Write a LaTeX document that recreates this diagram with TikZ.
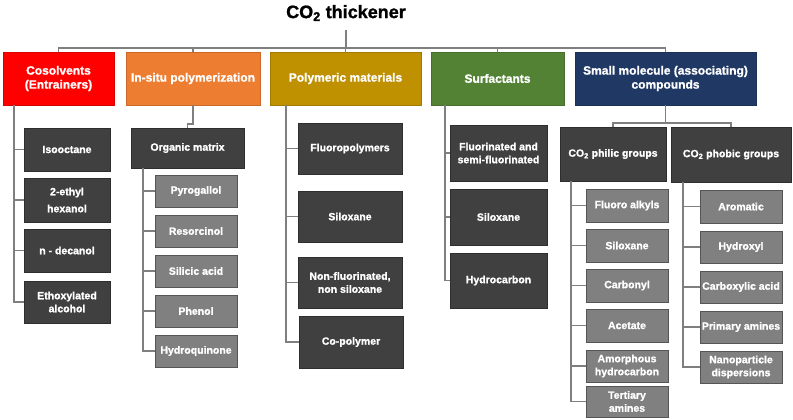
\documentclass[tikz,border=0pt]{standalone}
\usepackage{fontspec}
\setmainfont{Liberation Sans}[BoldFeatures={FakeBold=1.2}]
\definecolor{lnc}{HTML}{7F7F7F}
\definecolor{dkf}{HTML}{404040}
\definecolor{dkd}{HTML}{2E2E2E}
\definecolor{gyf}{HTML}{808080}
\definecolor{gyd}{HTML}{555555}
\definecolor{cred}{HTML}{FF0000}
\definecolor{corg}{HTML}{ED7D31}
\definecolor{cgld}{HTML}{BF9000}
\definecolor{cgrn}{HTML}{548235}
\definecolor{cnvy}{HTML}{1F3864}
\newcommand\bx[7]{\node[#2,minimum width={#5-#3},minimum height={#6-#4}] (#1) at ({(#3+#5)/2},{(#4+#6)/2}) {#7};}
\begin{document}
\begin{tikzpicture}[x=1pt,y=-1pt,
  base/.style={rectangle,inner sep=1pt,outer sep=0pt,align=center,text=white,font=\bfseries\fontsize{10.5}{13}\selectfont,line width=0.6pt},
  top/.style={base,font=\bfseries\fontsize{12}{14}\selectfont,fill=#1,draw=#1!85!black},
  dk/.style={base,fill=dkf,draw=dkd},
  gy/.style={base,fill=gyf,draw=gyd},
  ln/.style={draw=lnc,line width=1.1pt}]
\useasboundingbox (0,0) rectangle (793,420);
\fill[white] (0,0) rectangle (793,420);
\node[font=\bfseries\fontsize{18}{20}\selectfont,inner sep=0pt] (title) at (346,13) {CO\textsubscript{2} thickener};
\coordinate (tb) at (346,30);
\coordinate (bar) at (346,48);
% top level
\bx{cos}{top=cred}{3}{52}{114}{105}{Cosolvents\\(Entrainers)}
\bx{ins}{top=corg}{126}{52}{260}{105}{In-situ polymerization}
\bx{pol}{top=cgld}{270}{52}{421}{105}{Polymeric materials}
\bx{sur}{top=cgrn}{431}{52}{564}{105}{Surfactants}
\bx{sml}{top=cnvy}{575}{52}{756}{105}{Small molecule (associating)\\compounds}
% cosolvents
\bx{iso}{dk}{24}{128}{110}{171}{Isooctane}
\bx{eth}{dk}{24}{178}{110}{222}{2-ethyl\\[4pt]hexanol}
\bx{dec}{dk}{24}{229}{110}{272}{n - decanol}
\bx{etx}{dk}{24}{281}{110}{323}{Ethoxylated\\alcohol}
% in-situ
\bx{om}{dk}{131}{128}{244}{168}{Organic matrix}
\bx{pyr}{gy}{155}{175}{237}{207}{Pyrogallol}
\bx{res}{gy}{155}{215}{237}{247}{Resorcinol}
\bx{sil}{gy}{155}{255}{237}{287}{Silicic acid}
\bx{phe}{gy}{155}{295}{237}{327}{Phenol}
\bx{hyd}{gy}{155}{335}{237}{367}{Hydroquinone}
% polymeric
\bx{flp}{dk}{298}{123}{402}{174}{Fluoropolymers}
\bx{six}{dk}{298}{191}{402}{242}{Siloxane}
\bx{nfl}{dk}{298}{257}{402}{308}{Non-fluorinated,\\non siloxane}
\bx{cop}{dk}{299}{316}{403}{368}{Co-polymer}
% surfactants
\bx{ffl}{dk}{450}{125}{547}{181}{Fluorinated and\\semi-fluorinated}
\bx{ssx}{dk}{450}{189}{547}{245}{Siloxane}
\bx{hyc}{dk}{450}{253}{547}{308}{Hydrocarbon}
% small molecule
\bx{phil}{dk}{560}{127}{666}{181}{CO\textsubscript{2} philic groups}
\bx{phob}{dk}{671}{127}{791}{182}{CO\textsubscript{2} phobic groups}
\bx{fa}{gy}{586}{189}{668}{222}{Fluoro alkyls}
\bx{sx}{gy}{586}{229}{668}{262}{Siloxane}
\bx{cb}{gy}{586}{269}{668}{302}{Carbonyl}
\bx{ac}{gy}{586}{309}{668}{342}{Acetate}
\bx{am}{gy}{586}{350}{668}{382}{Amorphous\\hydrocarbon}
\bx{ta}{gy}{586}{386}{668}{417}{Tertiary\\amines}
\bx{ar}{gy}{700}{190}{782}{223}{Aromatic}
\bx{hx}{gy}{700}{231}{782}{263}{Hydroxyl}
\bx{ca}{gy}{700}{271}{782}{303}{Carboxylic acid}
\bx{pa}{gy}{700}{311}{782}{343}{Primary amines}
\bx{np}{gy}{700}{351}{782}{383}{Nanoparticle\\dispersions}
% connectors: top
\draw[ln] (tb) -- (bar);
\draw[ln] (cos.north) -- ++(0,-4) -| (sml.north);
\foreach \n in {ins,pol,sur} \draw[ln] (\n.north) -- ++(0,-4);
% cosolvents
\foreach \c in {iso,eth,dec,etx} \draw[ln] ([xshift=11pt]cos.south west) |- (\c.west);
% in-situ
\draw[ln] (ins.south) -- ++(0,19) -| (om.north);
\foreach \c in {pyr,res,sil,phe,hyd} \draw[ln] ([xshift=12pt]om.south west) |- (\c.west);
% polymeric
\foreach \c in {flp,six,nfl,cop} \draw[ln] ([xshift=16pt]pol.south west) |- (\c.west);
% surfactants
\foreach \c in {ffl,ssx,hyc} \draw[ln] ([xshift=14pt]sur.south west) |- (\c.west);
% small molecule
\draw[ln] (sml.south) -- ++(0,18) coordinate (sj);
\draw[ln] (phil.north) -- ++(0,-4) -| (phob.north);
\foreach \c in {fa,sx,cb,ac,am,ta} \draw[ln] ([xshift=11pt]phil.south west) |- (\c.west);
\foreach \c in {ar,hx,ca,pa,np} \draw[ln] ([xshift=12pt]phob.south west) |- (\c.west);
\end{tikzpicture}
\end{document}
